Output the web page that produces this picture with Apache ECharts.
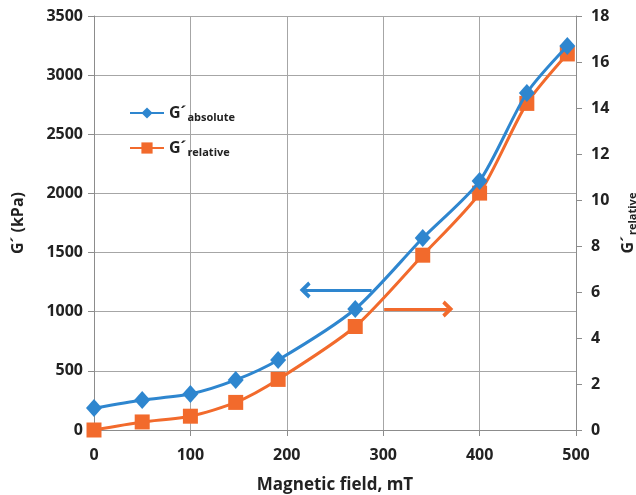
<!DOCTYPE html>
<html>
<head>
<meta charset="utf-8">
<script src="https://cdn.jsdelivr.net/npm/echarts@6/dist/echarts.min.js"></script>
<style>
  html, body { margin: 0; padding: 0; background: #fff; }
  #chart { width: 636px; height: 495px; }
</style>
</head>
<body>
<div id="chart"></div>
<script>
// Magnetic field (mT) at each measurement
const fieldMT = [0, 50, 100, 147, 191, 271, 341, 400, 449, 491];
// Storage modulus G' in kPa (left axis)
const gAbsolute = [185, 254, 304, 423, 592, 1023, 1623, 2105, 2849, 3246];
// Relative storage modulus G'/G'0 (right axis)
const gRelative = [0, 0.35, 0.6, 1.2, 2.2, 4.5, 7.6, 10.3, 14.2, 16.35];

// Left axis and right axis tick setup
const leftMax = 3500, leftStep = 500;
const rightMax = 18, rightStep = 2;

// Arrows pointing to each series' axis: [x from, x to, level]
const absArrow = [288, 219, 1183];
const relArrow = [301, 367, 5.26];

const BLUE = '#2e86cf';
const ORANGE = '#f26a2c';
const FONT = 'Open Sans';
const chevron = 'path://M0,11 L10,0 L20,11 L16.5,14 L10,7 L3.5,14 Z';
const plain = v => String(v);

const chart = echarts.init(document.getElementById('chart'), null, { renderer: 'canvas' });

const pairs = (xs, ys) => xs.map((x, i) => [x, ys[i]]);

const legendRich = {
  g: { fontFamily: FONT, fontWeight: 'bold', fontSize: 16, color: '#222' },
  s: { fontFamily: FONT, fontWeight: 'bold', fontSize: 11, color: '#222', padding: [9, 0, 0, 1] }
};

const tickText = { fontFamily: FONT, fontWeight: 'bold', fontSize: 16, color: '#222', formatter: plain };

function arrowLine(a, color) {
  return {
    silent: true,
    symbol: ['none', chevron],
    symbolSize: [17, 11],
    label: { show: false },
    lineStyle: { color: color, width: 3, type: 'solid' },
    emphasis: { disabled: true },
    data: [[{ coord: [a[0], a[2]] }, { coord: [a[1], a[2]] }]]
  };
}

chart.setOption({
  animation: false,
  backgroundColor: '#fff',
  grid: { left: 94, right: 60, top: 16, bottom: 65, containLabel: false, outerBoundsMode: 'none' },
  legend: {
    orient: 'vertical',
    left: 124,
    top: 100,
    itemWidth: 34,
    itemHeight: 14,
    itemGap: 17,
    selectedMode: false,
    data: ['abs', 'rel'],
    formatter: function (name) {
      return name === 'abs' ? '{g|G´}{s|absolute}' : '{g|G´}{s|relative}';
    },
    textStyle: { rich: legendRich }
  },
  xAxis: {
    type: 'value',
    min: 0,
    max: 500,
    interval: 100,
    name: 'Magnetic field, mT',
    nameLocation: 'middle',
    nameGap: 47,
    nameTextStyle: { fontFamily: FONT, fontWeight: 'bold', fontSize: 17, color: '#222' },
    axisLine: { show: true, onZero: false, lineStyle: { color: '#8c8c8c', width: 1 } },
    axisTick: { show: true, length: 6, lineStyle: { color: '#8c8c8c' } },
    axisLabel: Object.assign({ margin: 17 }, tickText),
    splitLine: { show: true, lineStyle: { color: '#a6a6a6', width: 1 } }
  },
  yAxis: [
    {
      type: 'value',
      min: 0,
      max: leftMax,
      interval: leftStep,
      name: 'G´ (kPa)',
      nameLocation: 'middle',
      nameGap: 68,
      nameTextStyle: { fontFamily: FONT, fontWeight: 'bold', fontSize: 16, color: '#222' },
      axisLine: { show: true, lineStyle: { color: '#8c8c8c', width: 1 } },
      axisTick: { show: true, length: 6, lineStyle: { color: '#8c8c8c' } },
      axisLabel: Object.assign({ margin: 11 }, tickText),
      splitLine: { show: true, lineStyle: { color: '#a6a6a6', width: 1 } }
    },
    {
      type: 'value',
      min: 0,
      max: rightMax,
      interval: rightStep,
      position: 'right',
      name: '{g|G´}{s|relative}',
      nameLocation: 'middle',
      nameGap: 40,
      nameRotate: 90,
      nameTextStyle: { rich: legendRich },
      axisLine: { show: true, lineStyle: { color: '#8c8c8c', width: 1 } },
      axisTick: { show: true, length: 6, lineStyle: { color: '#8c8c8c' } },
      axisLabel: Object.assign({ margin: 15 }, tickText),
      splitLine: { show: false }
    }
  ],
  series: [
    {
      name: 'abs',
      type: 'line',
      yAxisIndex: 0,
      data: pairs(fieldMT, gAbsolute),
      smooth: 0.25,
      symbol: 'diamond',
      symbolSize: [16, 18],
      itemStyle: { color: BLUE },
      lineStyle: { color: BLUE, width: 3 },
      emphasis: { disabled: true },
      z: 3,
      markLine: arrowLine(absArrow, BLUE)
    },
    {
      name: 'rel',
      type: 'line',
      yAxisIndex: 1,
      data: pairs(fieldMT, gRelative),
      smooth: 0.25,
      symbol: 'rect',
      symbolSize: 15,
      itemStyle: { color: ORANGE },
      lineStyle: { color: ORANGE, width: 3 },
      emphasis: { disabled: true },
      z: 2,
      markLine: arrowLine(relArrow, ORANGE)
    }
  ]
});
</script>
</body>
</html>
